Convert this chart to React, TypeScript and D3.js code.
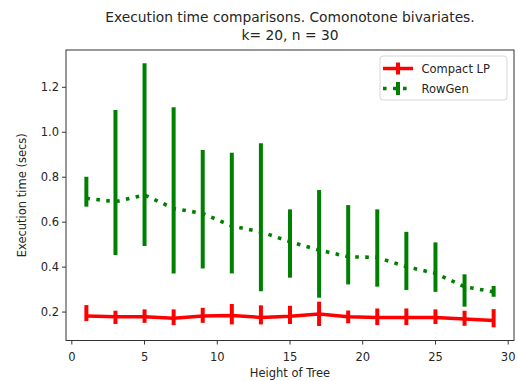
import React from "react";
import * as d3 from "d3";

const heights = [1, 3, 5, 7, 9, 11, 13, 15, 17, 19, 21, 23, 25, 27, 29];

const compactMean = [0.182, 0.179, 0.179, 0.172, 0.182, 0.185, 0.176, 0.181, 0.191, 0.179, 0.176, 0.176, 0.176, 0.169, 0.163];
const compactLow = [0.160, 0.147, 0.152, 0.142, 0.152, 0.145, 0.145, 0.147, 0.138, 0.150, 0.142, 0.142, 0.147, 0.139, 0.132];
const compactHigh = [0.231, 0.206, 0.212, 0.212, 0.219, 0.236, 0.230, 0.228, 0.246, 0.207, 0.216, 0.216, 0.212, 0.206, 0.213];

const rowGenMean = [0.706, 0.691, 0.721, 0.661, 0.639, 0.583, 0.557, 0.513, 0.476, 0.446, 0.443, 0.402, 0.372, 0.313, 0.290];
const rowGenLow = [0.669, 0.454, 0.494, 0.372, 0.394, 0.372, 0.293, 0.353, 0.264, 0.323, 0.313, 0.298, 0.290, 0.224, 0.268];
const rowGenHigh = [0.802, 1.099, 1.307, 1.111, 0.921, 0.909, 0.951, 0.657, 0.743, 0.676, 0.657, 0.557, 0.510, 0.368, 0.316];

const xTicks = [0, 5, 10, 15, 20, 25, 30];
const yTicks = [0.2, 0.4, 0.6, 0.8, 1.0, 1.2];

const W = 518;
const H = 381;
const margin = { left: 66, right: 4, top: 50, bottom: 40.5 };
const font = "DejaVu Sans, sans-serif";
const textColor = "#262626";

export default function App() {
  const x = d3.scaleLinear().domain([-0.4, 30.4]).range([margin.left, W - margin.right]);
  const y = d3.scaleLinear().domain([0.0735, 1.366]).range([H - margin.bottom, margin.top]);

  const line = d3
    .line<number>()
    .x((_, i) => x(heights[i]))
    .y((d) => y(d));

  const x0 = margin.left;
  const x1 = W - margin.right;
  const y0 = H - margin.bottom;
  const y1 = margin.top;

  return (
    <svg
      width={W}
      height={H}
      style={{ position: "absolute", left: 0, top: 0, background: "#fff" }}
      fontFamily={font}
    >
      <rect x={0} y={0} width={W} height={H} fill="#fff" />
      <text x={(x0 + x1) / 2} y={22} textAnchor="middle" fontSize={13.8} fill={textColor}>
        Execution time comparisons. Comonotone bivariates.
      </text>
      <text x={(x0 + x1) / 2} y={40} textAnchor="middle" fontSize={13.8} fill={textColor}>
        k= 20, n = 30
      </text>

      {/* RowGen error bars and dotted line */}
      {heights.map((h, i) => (
        <line
          key={"gb" + i}
          x1={x(h)}
          x2={x(h)}
          y1={y(rowGenLow[i])}
          y2={y(rowGenHigh[i])}
          stroke="#008000"
          strokeWidth={4}
        />
      ))}
      <path
        d={line(rowGenMean) ?? ""}
        fill="none"
        stroke="#008000"
        strokeWidth={3.6}
        strokeDasharray="3.6 6.4"
      />

      {/* Compact LP error bars and line */}
      {heights.map((h, i) => (
        <line
          key={"rb" + i}
          x1={x(h)}
          x2={x(h)}
          y1={y(compactLow[i])}
          y2={y(compactHigh[i])}
          stroke="#ff0000"
          strokeWidth={4}
        />
      ))}
      <path d={line(compactMean) ?? ""} fill="none" stroke="#ff0000" strokeWidth={3.5} />

      {/* frame */}
      <rect x={x0} y={y1} width={x1 - x0} height={y0 - y1} fill="none" stroke="#333" strokeWidth={1} />

      {/* x axis */}
      {xTicks.map((t) => (
        <g key={"xt" + t}>
          <line x1={x(t)} x2={x(t)} y1={y0} y2={y0 + 4} stroke="#333" />
          <text x={x(t)} y={y0 + 20} textAnchor="middle" fontSize={11.5} fill={textColor}>
            {t}
          </text>
        </g>
      ))}
      <text x={(x0 + x1) / 2} y={377} textAnchor="middle" fontSize={11.5} fill={textColor}>
        Height of Tree
      </text>

      {/* y axis */}
      {yTicks.map((t) => (
        <g key={"yt" + t}>
          <line x1={x0 - 4} x2={x0} y1={y(t)} y2={y(t)} stroke="#333" />
          <text x={x0 - 7} y={y(t) + 4} textAnchor="end" fontSize={11.5} fill={textColor}>
            {t.toFixed(1)}
          </text>
        </g>
      ))}
      <text
        transform={`translate(26,${(y0 + y1) / 2}) rotate(-90)`}
        textAnchor="middle"
        fontSize={11.5}
        fill={textColor}
      >
        Execution time (secs)
      </text>

      {/* legend */}
      <g>
        <rect x={380} y={56} width={127} height={44} rx={3} fill="#fff" fillOpacity={0.8} stroke="#d6d6d6" />
        <line x1={383} x2={413} y1={68.5} y2={68.5} stroke="#ff0000" strokeWidth={3.5} />
        <line x1={398} x2={398} y1={62.5} y2={74.5} stroke="#ff0000" strokeWidth={4} />
        <text x={421.5} y={72.5} fontSize={11.5} fill={textColor}>
          Compact LP
        </text>
        <line x1={383} x2={413} y1={88.5} y2={88.5} stroke="#008000" strokeWidth={3.6} strokeDasharray="3.6 6.4" />
        <line x1={398} x2={398} y1={82} y2={95} stroke="#008000" strokeWidth={4} />
        <text x={421.5} y={92.5} fontSize={11.5} fill={textColor}>
          RowGen
        </text>
      </g>
    </svg>
  );
}
